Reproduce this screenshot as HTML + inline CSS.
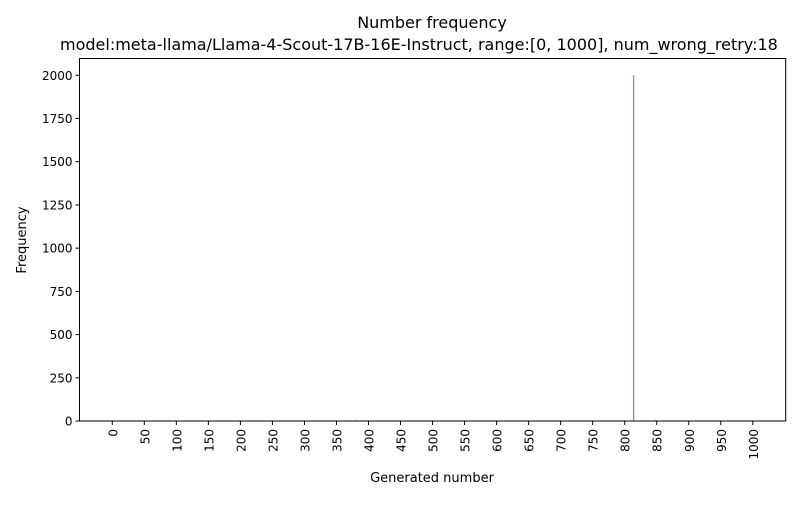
<!DOCTYPE html>
<html><head><meta charset="utf-8"><style>
body{margin:0;background:#fff;font-family:"Liberation Sans","DejaVu Sans",sans-serif}
svg text{font-family:"DejaVu Sans","Liberation Sans",sans-serif;fill:#000}
</style></head><body>
<svg id="chart" width="800" height="500" xmlns="http://www.w3.org/2000/svg">
<text x="432" y="28" font-size="16" text-anchor="middle">Number frequency</text>
<text x="60" y="50" font-size="16">model:meta-llama/Llama-4-Scout-17B-16E-Instruct, range:[0, 1000], num_wrong_retry:18</text>
<g id="bars"></g>
<g id="axes"></g>
<text x="432" y="482" font-size="13" text-anchor="middle">Generated number</text>
<text transform="translate(26,240) rotate(-90)" font-size="13" text-anchor="middle">Frequency</text>
</svg>
<script>
const categories = [381, 814, 848];
const values = [6, 2000, 5];
const xTicks = [0,50,100,150,200,250,300,350,400,450,500,550,600,650,700,750,800,850,900,950,1000];
const yTicks = [0,250,500,750,1000,1250,1500,1750,2000];
const L=79.5,R=785.7,T=58.5,B=421;
const xs=v=>112.3+v*0.6405;
const ys=v=>B-v*0.17285;
const NS="http://www.w3.org/2000/svg";
const bars=document.getElementById('bars'), axes=document.getElementById('axes');
function mk(tag,attrs,parent){const e=document.createElementNS(NS,tag);for(const k in attrs)e.setAttribute(k,attrs[k]);parent.appendChild(e);return e;}
categories.forEach((c,i)=>{
  const r=mk('rect',{x:xs(c)-0.5,y:ys(values[i]),width:1,height:B-ys(values[i]),fill:'#5a7a99'},bars);
  
  
});
const frame=mk('rect',{x:L,y:T,width:R-L,height:B-T,fill:'none',stroke:'#000','stroke-width':1},axes);


xTicks.forEach(t=>{
  const x=xs(t);
  mk('line',{x1:x,x2:x,y1:B,y2:B+4,stroke:'#000'},axes);
  const tx=mk('text',{transform:`translate(${x+5},${B+8}) rotate(-90)`,'font-size':12,'text-anchor':'end'},axes);
  tx.textContent=t;
  
  
});
yTicks.forEach(t=>{
  const y=ys(t);
  mk('line',{x1:L-4,x2:L,y1:y,y2:y,stroke:'#000'},axes);
  const tx=mk('text',{x:L-7,y:y+4.5,'font-size':12,'text-anchor':'end'},axes);
  tx.textContent=t;
  
  
});
</script>
</body></html>
